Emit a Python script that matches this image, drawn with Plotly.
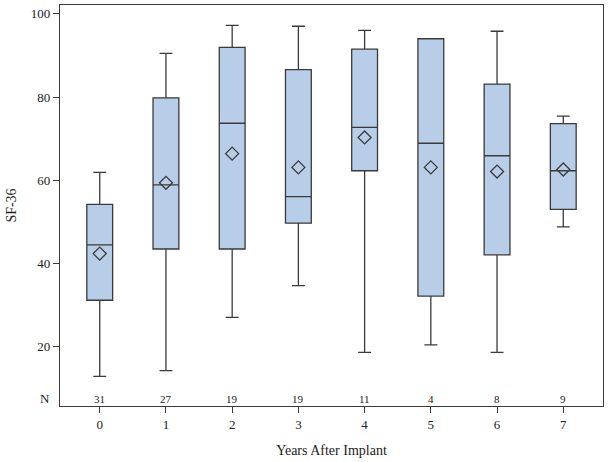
import plotly.graph_objects as go

years = [0, 1, 2, 3, 4, 5, 6, 7]
n_counts = [31, 27, 19, 19, 11, 4, 8, 9]
lower = [12.9, 14.3, 27.1, 34.7, 18.7, 20.5, 18.7, 48.8]
q1 = [31.2, 43.5, 43.5, 49.7, 62.3, 32.2, 42.1, 53.0]
median = [44.5, 58.9, 73.7, 56.1, 72.7, 68.9, 65.9, 62.3]
q3 = [54.2, 79.8, 91.9, 86.6, 91.5, 94.0, 83.1, 73.6]
upper = [61.9, 90.5, 97.2, 97.0, 96.0, 94.0, 95.8, 75.4]
mean = [42.4, 59.4, 66.4, 63.1, 70.3, 63.1, 62.1, 62.6]
y_ticks = [20, 40, 60, 80, 100]

font_family = "Liberation Serif, Times New Roman, serif"
line_col = "#3a3a3a"

fig = go.Figure()
fig.add_trace(go.Box(
    x=years, q1=q1, median=median, q3=q3,
    lowerfence=lower, upperfence=upper,
    width=0.39, whiskerwidth=0.5,
    fillcolor="#B8CDE8",
    line=dict(color=line_col, width=1.3),
    boxpoints=False, showlegend=False, hoverinfo="skip",
))
fig.add_trace(go.Scatter(
    x=years, y=mean, mode="markers",
    marker=dict(symbol="diamond-open", size=10, color=line_col, line=dict(width=1.3, color=line_col)),
    showlegend=False, hoverinfo="skip",
))

for x, n in zip(years, n_counts):
    fig.add_annotation(x=x, y=7.6, text=str(n), showarrow=False,
                       font=dict(family=font_family, size=11, color="#222"))
fig.add_annotation(xref="paper", x=0, y=7.6, text="N", showarrow=False,
                   xanchor="right", xshift=-8,
                   font=dict(family=font_family, size=13, color="#222"))

fig.update_layout(
    width=608, height=462,
    margin=dict(l=60, r=5, t=5, b=56),
    paper_bgcolor="white", plot_bgcolor="white",
    font=dict(family=font_family, size=13, color="#222"),
    xaxis=dict(
        range=[-0.6, 7.6], tickmode="array", tickvals=years,
        ticktext=[str(y) for y in years],
        showline=True, linecolor=line_col, linewidth=1.3, mirror=True,
        ticks="outside", ticklen=6, tickcolor=line_col, showgrid=False, zeroline=False,
        title=dict(text="Years After Implant", font=dict(size=14), standoff=14),
        tickfont=dict(size=13),
    ),
    yaxis=dict(
        range=[5.8, 102.1], tickmode="array", tickvals=y_ticks,
        showline=True, linecolor=line_col, linewidth=1.3, mirror=True,
        ticks="outside", ticklen=6, tickcolor=line_col, showgrid=False, zeroline=False,
        title=dict(text="SF-36", font=dict(size=14), standoff=10),
        tickfont=dict(size=13),
    ),
)

fig.write_html("out.html", config={"displayModeBar": False},
               post_script="document.body.style.margin='0';")
